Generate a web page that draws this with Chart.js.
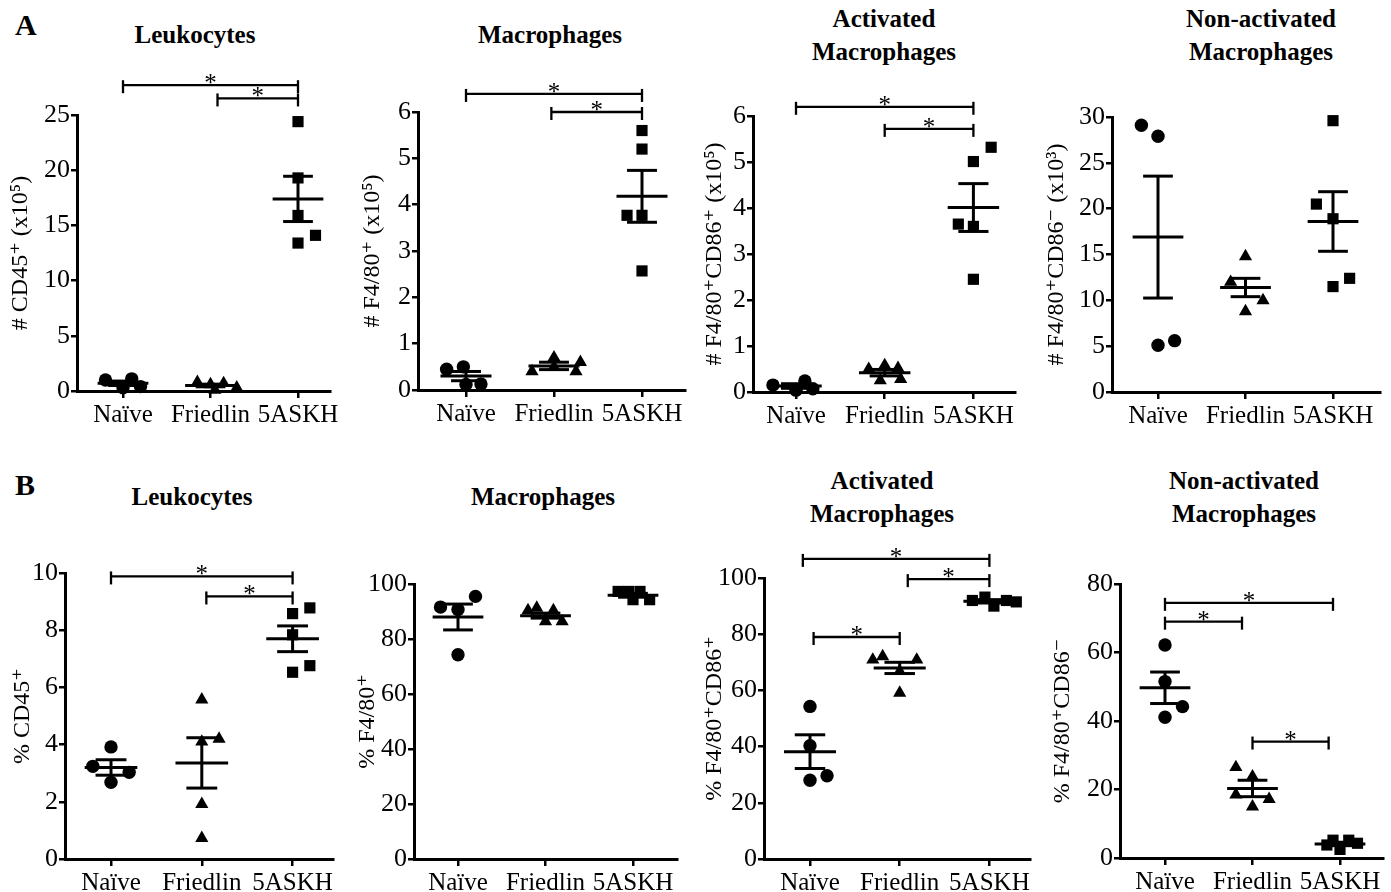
<!DOCTYPE html>
<html><head><meta charset="utf-8">
<script src="https://cdn.jsdelivr.net/npm/chart.js@4.4.1/dist/chart.umd.min.js"></script>
<style>
html,body{margin:0;padding:0;background:#fff;}
body{width:1391px;height:892px;overflow:hidden;position:relative;font-family:'Liberation Serif','Times New Roman',Tinos,'Nimbus Roman','DejaVu Serif',serif;color:#000;}
canvas{position:absolute;}
.t{position:absolute;font-weight:bold;font-size:25px;line-height:33px;text-align:center;white-space:nowrap;transform:translateX(-50%);}
.lab{position:absolute;font-weight:bold;font-size:30px;line-height:30px;}
</style></head><body>
<div class="lab" style="left:15px;top:10px">A</div>
<div class="lab" style="left:15px;top:470px">B</div>
<div class="t" style="left:195px;top:18px">Leukocytes</div>
<div class="t" style="left:550px;top:18px">Macrophages</div>
<div class="t" style="left:884px;top:2px">Activated<br>Macrophages</div>
<div class="t" style="left:1261px;top:2px">Non-activated<br>Macrophages</div>
<div class="t" style="left:192px;top:480px">Leukocytes</div>
<div class="t" style="left:543px;top:480px">Macrophages</div>
<div class="t" style="left:882px;top:464px">Activated<br>Macrophages</div>
<div class="t" style="left:1244px;top:464px">Non-activated<br>Macrophages</div>
<script>
// ---------------- DATA ----------------
const categories = ['Naïve', 'Friedlin', '5ASKH'];

// A1  # CD45+ (x10^5)
const a1Naive = [1.0, 1.1, 0.3, 0.4];
const a1Friedlin = [0.8, 0.7, 0.6, 0.1, 0.3];
const a1Askh = [24.4, 19.3, 15.9, 14.1, 13.4];
const a1Mean = [0.7, 0.5, 17.4];
const a1Sem = [0.2, 0.12, 2.05];
const a1Ticks = [0, 5, 10, 15, 20, 25];
const a1Sig = [[0, 2, 27.7], [1.08, 2, 26.5]];

// A2  # F4/80+ (x10^5)
const a2Naive = [0.45, 0.5, 0.12, 0.13];
const a2Friedlin = [0.7, 0.6, 0.4, 0.4, 0.5];
const a2Askh = [5.6, 5.2, 3.77, 3.77, 2.57];
const a2Mean = [0.3, 0.52, 4.18];
const a2Sem = [0.1, 0.08, 0.56];
const a2Ticks = [0, 1, 2, 3, 4, 5, 6];
const a2Sig = [[0, 2, 6.39], [0.97, 2, 6.0]];

// A3  # F4/80+CD86+ (x10^5)
const a3Naive = [0.15, 0.24, 0.04, 0.07];
const a3Friedlin = [0.5, 0.58, 0.52, 0.25, 0.28];
const a3Askh = [5.32, 5.01, 3.65, 3.6, 2.45];
const a3Mean = [0.13, 0.42, 4.01];
const a3Sem = [0.05, 0.07, 0.52];
const a3Ticks = [0, 1, 2, 3, 4, 5, 6];
const a3Sig = [[0, 2, 6.2], [1.0, 2, 5.72]];

// A4  # F4/80+CD86- (x10^3)
const a4Naive = [29.1, 27.9, 5.1, 5.6];
const a4Friedlin = [14.8, 12.0, 10.0, 8.8];
const a4Askh = [29.6, 20.5, 18.9, 12.4, 11.5];
const a4Mean = [16.9, 11.4, 18.6];
const a4Sem = [6.65, 1.0, 3.25];
const a4Ticks = [0, 5, 10, 15, 20, 25, 30];
const a4Sig = [];

// B1  % CD45+
const b1Naive = [3.92, 3.24, 3.03, 2.68];
const b1Friedlin = [5.57, 4.1, 4.2, 1.92, 0.73];
const b1Askh = [8.58, 8.78, 7.84, 6.76, 6.53];
const b1Mean = [3.2, 3.36, 7.7];
const b1Sem = [0.27, 0.88, 0.45];
const b1Ticks = [0, 2, 4, 6, 8, 10];
const b1Sig = [[0, 2, 9.88], [1.05, 2, 9.18]];

// B2  % F4/80+
const b2Naive = [91.6, 90.7, 95.5, 74.3];
const b2Friedlin = [90.4, 91.3, 90.4, 86.4, 86.4];
const b2Askh = [97.3, 97.3, 97.3, 94.3, 94.3];
const b2Mean = [88.0, 88.5, 95.9];
const b2Sem = [4.7, 0.9, 0.7];
const b2Ticks = [0, 20, 40, 60, 80, 100];
const b2Sig = [];

// B3  % F4/80+CD86+
const b3Naive = [54.3, 40.3, 28.0, 29.6];
const b3Friedlin = [70.9, 72.1, 70.9, 66.8, 59.1];
const b3Askh = [92.0, 93.2, 90.0, 92.0, 91.5];
const b3Mean = [38.2, 68.0, 91.7];
const b3Sem = [6.0, 2.0, 0.6];
const b3Ticks = [0, 20, 40, 60, 80, 100];
const b3Sig = [[-0.08, 2, 106.8], [1.09, 2, 99.6], [0.04, 1.0, 79.0]];

// B4  % F4/80+CD86-
const b4Naive = [62.2, 51.5, 44.2, 41.1];
const b4Friedlin = [26.5, 23.8, 18.5, 17.2, 15.0];
const b4Askh = [5.2, 5.2, 2.5, 4.3, 3.8];
const b4Mean = [49.7, 20.3, 4.1];
const b4Sem = [4.6, 2.4, 0.5];
const b4Ticks = [0, 20, 40, 60, 80];
const b4Sig = [[0, 1.92, 74.5], [0, 0.88, 69.0], [1.0, 1.87, 34.0]];

// horizontal scatter of points within each column (category units)
const a1Jit = [[-0.2, 0.1, 0.0, 0.2], [-0.15, 0.15, 0.0, 0.05, 0.3], [0, 0, 0, 0.2, 0]];
const a2Jit = [[-0.22, -0.03, 0.0, 0.17], [0, 0.3, -0.25, 0.25, 0], [0, 0, -0.17, 0, 0]];
const a3Jit = [[-0.26, 0.1, 0.0, 0.19], [-0.18, 0, 0.15, -0.05, 0.18], [0.2, 0, -0.17, 0, 0]];
const a4Jit = [[-0.19, 0, 0, 0.19], [0, -0.17, 0.2, 0], [0, -0.19, 0, 0.19, 0]];
const b1Jit = [[0, -0.2, 0.2, 0], [0, 0, 0.19, 0, 0], [0, 0.19, 0, 0.19, 0]];
const b2Jit = [[-0.2, 0, 0.2, 0], [-0.2, -0.1, 0.09, 0, 0.19], [-0.17, -0.05, 0.08, 0, 0.19]];
const b3Jit = [[0, 0, 0, 0.19], [-0.3, -0.19, 0.19, 0, 0], [-0.19, -0.05, 0.05, 0.19, 0.3]];
const b4Jit = [[0, 0, 0.2, 0], [-0.19, 0, -0.19, 0.19, 0], [-0.08, 0.1, 0, 0.2, -0.15]];

// ---------------- DRAWING ----------------
const FONT = "'Liberation Serif','Times New Roman',Tinos,'Nimbus Roman','DejaVu Serif',serif";
const styles = ['circle', 'triangle', 'rect'];
const radii = [6.7, 7.6, 7.9];

const panels = [
  {g:[a1Naive,a1Friedlin,a1Askh], j:a1Jit, m:a1Mean, s:a1Sem, t:a1Ticks, sig:a1Sig, title:'# CD45⁺ (x10⁵)',
   ax:77, right:330, top:115, bottom:391, tick0:123, sp:87.5, toff:56, cTop:60, cBot:432},
  {g:[a2Naive,a2Friedlin,a2Askh], j:a2Jit, m:a2Mean, s:a2Sem, t:a2Ticks, sig:a2Sig, title:'# F4/80⁺ (x10⁵)',
   ax:418, right:685, top:112, bottom:390, tick0:466, sp:88, toff:45, cTop:60, cBot:432},
  {g:[a3Naive,a3Friedlin,a3Askh], j:a3Jit, m:a3Mean, s:a3Sem, t:a3Ticks, sig:a3Sig, title:'# F4/80⁺CD86⁺ (x10⁵)',
   ax:753, right:1015, top:116, bottom:392, tick0:796, sp:88.7, toff:38, cTop:60, cBot:432},
  {g:[a4Naive,a4Friedlin,a4Askh], j:a4Jit, m:a4Mean, s:a4Sem, t:a4Ticks, sig:a4Sig, title:'# F4/80⁺CD86⁻ (x10³)',
   ax:1112, right:1380, top:117, bottom:392, tick0:1158, sp:87.5, toff:55, cTop:60, cBot:432},
  {g:[b1Naive,b1Friedlin,b1Askh], j:b1Jit, m:b1Mean, s:b1Sem, t:b1Ticks, sig:b1Sig, title:'% CD45⁺',
   ax:65, right:333, top:573, bottom:859, tick0:111, sp:90.8, toff:42, cTop:525, cBot:892},
  {g:[b2Naive,b2Friedlin,b2Askh], j:b2Jit, m:b2Mean, s:b2Sem, t:b2Ticks, sig:b2Sig, title:'% F4/80⁺',
   ax:414, right:677, top:584, bottom:859, tick0:458, sp:87.5, toff:46, cTop:525, cBot:892},
  {g:[b3Naive,b3Friedlin,b3Askh], j:b3Jit, m:b3Mean, s:b3Sem, t:b3Ticks, sig:b3Sig, title:'% F4/80⁺CD86⁺',
   ax:764, right:1030, top:578, bottom:859, tick0:810, sp:89.7, toff:49, cTop:525, cBot:892},
  {g:[b4Naive,b4Friedlin,b4Askh], j:b4Jit, m:b4Mean, s:b4Sem, t:b4Ticks, sig:b4Sig, title:'% F4/80⁺CD86⁻',
   ax:1120, right:1383, top:584, bottom:858, tick0:1165, sp:87.5, toff:57, cTop:525, cBot:892}
];

function overlay(p) {
  return {
    id: 'meanSemSig',
    afterDatasetsDraw(chart) {
      const ctx = chart.ctx, x = chart.scales.x, y = chart.scales.y;
      const L = (x1, y1, x2, y2) => { ctx.beginPath(); ctx.moveTo(x1, y1); ctx.lineTo(x2, y2); ctx.stroke(); };
      ctx.save();
      ctx.strokeStyle = '#000'; ctx.lineCap = 'butt';
      ctx.lineWidth = 3;
      p.m.forEach((mv, i) => {
        const xc = x.getPixelForValue(i);
        const hw = x.getPixelForValue(i + 0.29) - xc;
        const cw = x.getPixelForValue(i + 0.17) - xc;
        const ym = y.getPixelForValue(mv), yu = y.getPixelForValue(mv + p.s[i]), yl = y.getPixelForValue(mv - p.s[i]);
        L(xc - hw, ym, xc + hw, ym);
        L(xc - cw, yu, xc + cw, yu);
        L(xc - cw, yl, xc + cw, yl);
        L(xc, yu, xc, yl);
      });
      ctx.lineWidth = 2.3;
      ctx.fillStyle = '#000';
      ctx.font = '25px ' + FONT;
      ctx.textAlign = 'center'; ctx.textBaseline = 'alphabetic';
      p.sig.forEach(([a, b, v]) => {
        const x1 = x.getPixelForValue(a), x2 = x.getPixelForValue(b), yy = y.getPixelForValue(v);
        L(x1, yy, x2, yy);
        L(x1, yy - 5, x1, yy + 8);
        L(x2, yy - 5, x2, yy + 8);
        ctx.fillText('*', (x1 + x2) / 2, yy + 6);
      });
      ctx.restore();
    }
  };
}

panels.forEach(p => {
  const yW = p.toff + 12;
  const left = p.ax - yW;
  const padRight = 14;
  const width = (p.right - p.ax) + yW + padRight;
  const height = p.cBot - p.cTop;
  const xMin = -(p.tick0 - p.ax) / p.sp;
  const xMax = xMin + (p.right - p.ax) / p.sp;
  const cv = document.createElement('canvas');
  cv.width = width; cv.height = height;
  cv.style.left = left + 'px'; cv.style.top = p.cTop + 'px';
  cv.style.width = width + 'px'; cv.style.height = height + 'px';
  document.body.appendChild(cv);
  new Chart(cv, {
    type: 'scatter',
    data: {
      datasets: p.g.map((vals, gi) => ({
        label: categories[gi],
        data: vals.map((v, i) => ({x: gi + p.j[gi][i], y: v})),
        pointStyle: styles[gi],
        pointRadius: radii[gi],
        pointBackgroundColor: '#000',
        pointBorderColor: '#000',
        pointBorderWidth: 0,
        clip: false
      }))
    },
    options: {
      responsive: false, animation: false, devicePixelRatio: 1,
      layout: {padding: {left: 0, right: padRight, top: p.top - p.cTop, bottom: 0}},
      plugins: {legend: {display: false}, tooltip: {enabled: false}, title: {display: false}},
      scales: {
        x: {
          type: 'linear', min: xMin, max: xMax,
          afterBuildTicks: s => { s.ticks = [0, 1, 2].map(v => ({value: v})); },
          afterFit: s => { s.height = p.cBot - p.bottom; },
          grid: {drawOnChartArea: false, drawTicks: true, tickLength: 7, color: '#000', lineWidth: 2.5},
          border: {display: true, color: '#000', width: 3},
          ticks: {autoSkip: false, maxRotation: 0, padding: 2, color: '#000',
                  font: {family: FONT, size: 25},
                  callback: v => categories[Math.round(v)]}
        },
        y: {
          type: 'linear', min: 0, max: p.t[p.t.length - 1],
          afterBuildTicks: s => { s.ticks = p.t.map(v => ({value: v})); },
          afterFit: s => { s.width = yW; },
          grid: {drawOnChartArea: false, drawTicks: true, tickLength: 6, color: '#000', lineWidth: 2.5},
          border: {display: true, color: '#000', width: 3},
          ticks: {padding: 1, color: '#000', font: {family: FONT, size: 26}, callback: v => String(v)},
          title: {display: true, text: p.title, color: '#000', padding: {top: 0, bottom: 0},
                  font: {family: FONT, size: 24, lineHeight: 1}}
        }
      }
    },
    plugins: [overlay(p)]
  });
});
</script>
</body></html>
